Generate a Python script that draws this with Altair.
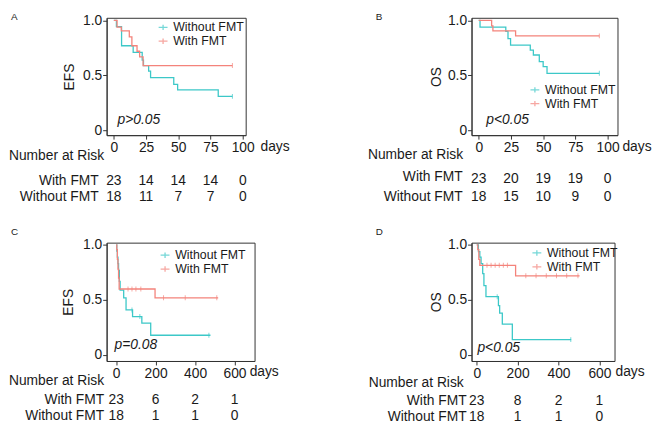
import altair as alt
import pandas as pd

FONT = "Liberation Sans"
TEAL = "#3CC8C8"
RED = "#F4837B"
INK = "#1a1a1a"
GROUPS = ["Without FMT", "With FMT"]
PLUS = "M-1,0L1,0M0,-0.6L0,0.6"

# ---------------- data ----------------
# Panel A: EFS, 100-day window
a_without_t = [0, 2, 6, 15, 22, 23, 27, 28.5, 46.5, 49.5, 81, 92]
a_without_s = [1.0, 0.944, 0.77, 0.71, 0.64, 0.59, 0.54, 0.48, 0.42, 0.37, 0.31, 0.31]
a_with_t = [0, 2.5, 5.8, 12, 14, 18, 20, 22.7, 92]
a_with_s = [1.0, 0.94, 0.905, 0.85, 0.77, 0.72, 0.67, 0.59, 0.59]
a_without_cens = [92]
a_with_cens = [92]

# Panel B: OS, 100-day window
b_without_t = [0, 1, 21, 22.7, 24.7, 40, 42.4, 47, 50, 53, 93.6]
b_without_s = [1.0, 0.94, 0.9, 0.835, 0.776, 0.73, 0.686, 0.626, 0.58, 0.52, 0.52]
b_with_t = [0, 10, 11, 28.6, 93.6]
b_with_s = [1.0, 0.95, 0.905, 0.86, 0.86]
b_without_cens = [93.6]
b_with_cens = [93.6]

# Panel C: EFS, long-term
c_without_t = [0, 3, 6, 9, 12, 16, 20, 38, 50, 83, 130, 175, 478]
c_without_s = [1.0, 0.944, 0.889, 0.83, 0.77, 0.67, 0.59, 0.52, 0.41, 0.35, 0.29, 0.18, 0.18]
c_with_t = [0, 3, 6, 9, 12, 15, 197, 517]
c_with_s = [1.0, 0.957, 0.87, 0.78, 0.70, 0.60, 0.52, 0.52]
c_without_cens = [80, 120, 470]
c_with_cens = [60, 80, 100, 125, 240, 350, 510]

# Panel D: OS, long-term
d_without_t = [0, 8, 15, 21, 29, 35, 45, 106, 112, 125, 174, 462]
d_without_s = [1.0, 0.94, 0.89, 0.83, 0.74, 0.63, 0.53, 0.45, 0.38, 0.28, 0.14, 0.14]
d_with_t = [0, 5, 10, 15, 190, 503]
d_with_s = [1.0, 0.957, 0.87, 0.815, 0.72, 0.72]
d_without_cens = [100, 460]
d_with_cens = [50, 70, 90, 110, 130, 150, 240, 290, 340, 390, 440, 495]

# Number-at-risk tables
ab_times = [0, 25, 50, 75, 100]
a_risk_with = [23, 14, 14, 14, 0]
a_risk_without = [18, 11, 7, 7, 0]
b_risk_with = [23, 20, 19, 19, 0]
b_risk_without = [18, 15, 10, 9, 0]
cd_times = [0, 200, 400, 600]
c_risk_with = [23, 6, 2, 1]
c_risk_without = [18, 1, 1, 0]
d_risk_with = [23, 8, 2, 1]
d_risk_without = [18, 1, 1, 0]

p_texts = ["p>0.05", "p<0.05", "p=0.08", "p<0.05"]
letters = ["A", "B", "C", "D"]
y_titles = ["EFS", "OS", "EFS", "OS"]


def step_value(ts, ss, c):
    v = ss[0]
    for t, s in zip(ts, ss):
        if t <= c:
            v = s
    return v


def panel(cfg):
    xs = alt.Scale(domain=cfg["xdom"], nice=False, zero=False)
    ys = alt.Scale(domain=cfg["ydom"], nice=False, zero=False)
    xenc = alt.X("t:Q", scale=xs, axis=alt.Axis(
        values=cfg["xticks"], format="d", title=None, grid=False, tickSize=4,
        labelPadding=2, labelFontSize=14, labelFont=FONT, labelColor=INK,
        tickColor="#333", domainColor="#333", labelFlush=False, labelOverlap=False))
    yenc = alt.Y("s:Q", scale=ys, axis=alt.Axis(
        values=[0, 0.5, 1], labelExpr="datum.value == 0 ? '0' : format(datum.value, '.1f')",
        title=cfg["ytitle"], titleFontSize=14, titleFontWeight="normal", titleFont=FONT,
        titleColor=INK, titlePadding=cfg["titlepad"], grid=False, tickSize=4, labelPadding=1,
        labelFontSize=14, labelFont=FONT, labelColor=INK, tickColor="#333",
        domainColor="#333", labelFlush=False, labelOverlap=False))
    color = alt.Color("g:N", scale=alt.Scale(domain=GROUPS, range=[TEAL, RED]),
                      legend=alt.Legend(title=None, orient="none", legendX=cfg["legx"],
                                        legendY=cfg["legy"], symbolType=PLUS, symbolSize=81,
                                        symbolStrokeWidth=1.3, labelFontSize=12.5,
                                        labelFont=FONT, labelColor=INK, rowPadding=1,
                                        padding=0, labelOffset=4, symbolOffset=0))
    rows = []
    for g, ts, ss in [("Without FMT", cfg["wo_t"], cfg["wo_s"]), ("With FMT", cfg["w_t"], cfg["w_s"])]:
        for t, s in zip(ts, ss):
            rows.append({"t": t, "s": s, "g": g})
    curves = pd.DataFrame(rows)
    crow = []
    for g, ts, ss, cs in [("Without FMT", cfg["wo_t"], cfg["wo_s"], cfg["wo_c"]),
                          ("With FMT", cfg["w_t"], cfg["w_s"], cfg["w_c"])]:
        for c in cs:
            crow.append({"t": c, "s": step_value(ts, ss, c), "g": g})
    cens = pd.DataFrame(crow)

    lines = alt.Chart(curves).mark_line(interpolate="step-after", strokeWidth=1.3).encode(
        x=xenc, y=yenc, color=color)
    ticks = alt.Chart(cens).mark_tick(orient="vertical", size=5, thickness=1).encode(
        x=xenc, y=yenc, color=color)

    def txt(label, x, y, size=14, align="left", style="normal"):
        return alt.Chart(pd.DataFrame({"label": [label]})).mark_text(
            align=align, baseline="middle", fontSize=size, font=FONT, color=INK,
            fontStyle=style).encode(x=alt.value(x), y=alt.value(y), text="label:N")

    def risk_row(times, counts, y):
        df = pd.DataFrame({"t": times, "n": [str(v) for v in counts]})
        return alt.Chart(df).mark_text(align="center", baseline="middle", fontSize=14,
                                       font=FONT, color=INK).encode(
            x=xenc, y=alt.value(y), text="n:N")

    L = cfg["lay"]
    layers = [lines, ticks,
              txt(cfg["p"], L["p"][0], L["p"][1], style="italic"),
              txt(cfg["letter"], L["letter"][0], L["letter"][1], size=10),
              txt("Number at Risk", L["nar"][0], L["nar"][1]),
              txt("With FMT", L["wlab"][0], L["wlab"][1], align="right"),
              txt("Without FMT", L["wolab"][0], L["wolab"][1], align="right"),
              txt("days", L["days"][0], L["days"][1]),
              risk_row(cfg["rt"], cfg["rw"], L["wnum"]),
              risk_row(cfg["rt"], cfg["rwo"], L["wonum"])]
    if cfg.get("anchor"):
        layers.append(alt.Chart(pd.DataFrame({"k": [0]})).mark_rect(opacity=0).encode(
            x=alt.value(-99), x2=alt.value(-98), y=alt.value(-6), y2=alt.value(-5)))
    return alt.layer(*layers).properties(width=cfg["w"], height=cfg["h"])


A = panel(dict(w=141, h=119, xdom=[-5.6, 102.3], ydom=[-0.042, 1.024], xticks=ab_times,
               ytitle=y_titles[0], titlepad=6.5, legx=51, legy=3.5,
               wo_t=a_without_t, wo_s=a_without_s, w_t=a_with_t, w_s=a_with_s,
               wo_c=a_without_cens, w_c=a_with_cens, p=p_texts[0], letter=letters[0],
               rt=ab_times, rw=a_risk_with, rwo=a_risk_without, anchor=True,
               lay=dict(p=(11, 104), letter=(-97, -1), nar=(-99, 140), wlab=(-8, 166),
                        wolab=(-8, 182), days=(156, 131), wnum=166, wonum=182)))
B = panel(dict(w=148, h=119, xdom=[-5.6, 107.7], ydom=[-0.042, 1.024], xticks=ab_times,
               ytitle=y_titles[1], titlepad=3.5, legx=58, legy=66.8,
               wo_t=b_without_t, wo_s=b_without_s, w_t=b_with_t, w_s=b_with_s,
               wo_c=b_without_cens, w_c=b_with_cens, p=p_texts[1], letter=letters[1],
               rt=ab_times, rw=b_risk_with, rwo=b_risk_without,
               lay=dict(p=(15, 104), letter=(-97, -1), nar=(-105, 139), wlab=(-9, 161),
                        wolab=(-9, 182), days=(153, 131), wnum=164, wonum=182)))
C = panel(dict(w=150, h=120, xdom=[-48.5, 701.5], ydom=[-0.054, 1.021], xticks=cd_times,
               ytitle=y_titles[2], titlepad=7.5, legx=53, legy=6.5,
               wo_t=c_without_t, wo_s=c_without_s, w_t=c_with_t, w_s=c_with_s,
               wo_c=c_without_cens, w_c=c_with_cens, p=p_texts[2], letter=letters[2],
               rt=cd_times, rw=c_risk_with, rwo=c_risk_without,
               lay=dict(p=(8, 104), letter=(-97, -10.3), nar=(-99, 140.7), wlab=(-2.5, 159.7),
                        wolab=(-2.5, 176.3), days=(145, 131), wnum=159.7, wonum=176.3)))
D = panel(dict(w=145, h=120, xdom=[-25.6, 674], ydom=[-0.054, 1.021], xticks=cd_times,
               ytitle=y_titles[3], titlepad=3.5, legx=60, legy=4.2,
               wo_t=d_without_t, wo_s=d_without_s, w_t=d_with_t, w_s=d_with_s,
               wo_c=d_without_cens, w_c=d_with_cens, p=p_texts[3], letter=letters[3],
               rt=cd_times, rw=d_risk_with, rwo=d_risk_without,
               lay=dict(p=(6, 107), letter=(-97, -10.3), nar=(-104.3, 142.3), wlab=(-5, 160.7),
                        wolab=(-5, 177.3), days=(146, 131), wnum=160.7, wonum=177.3)))

chart = alt.concat(A, B, C, D, columns=2, spacing={"row": 109, "column": 220},
                   bounds="flush", align="each").resolve_scale(
    color="independent").resolve_legend(color="independent").properties(
    padding=0, background="white").configure(font=FONT).configure_view(
    stroke="#333", strokeWidth=1)

chart.save("out.html", embed_options={"renderer": "svg", "actions": False})
